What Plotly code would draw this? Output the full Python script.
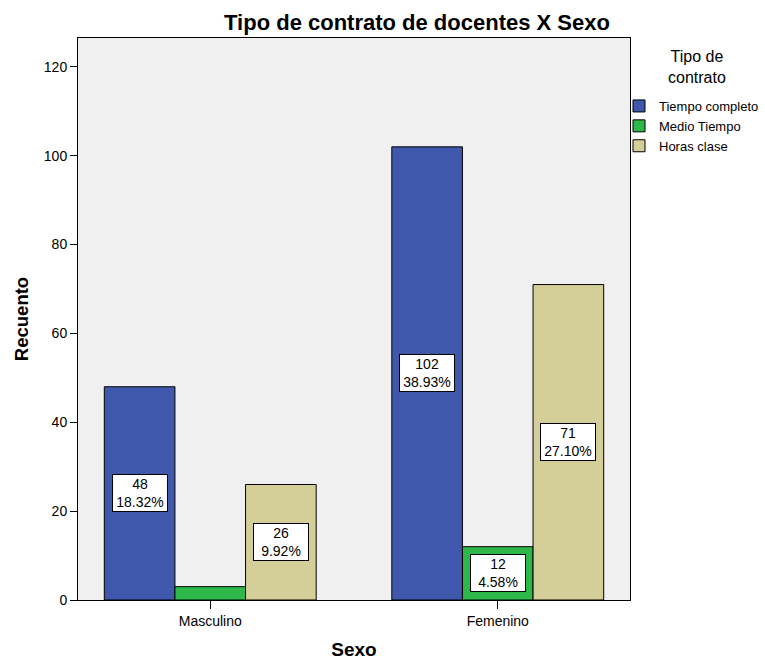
import plotly.graph_objects as go

# Data
sexo = ["Masculino", "Femenino"]
tipos = ["Tiempo completo", "Medio Tiempo", "Horas clase"]
recuento = {
    "Tiempo completo": [48, 102],
    "Medio Tiempo": [3, 12],
    "Horas clase": [26, 71],
}
colores = {
    "Tiempo completo": "#3F58AC",
    "Medio Tiempo": "#2FB84A",
    "Horas clase": "#D4CF98",
}
total = sum(sum(v) for v in recuento.values())
min_label = 5  # bars shorter than this carry no label box

BARGAP = 0.263
FONT = "Arial, Liberation Sans, sans-serif"
W, H = 765, 660
ML, MR, MT, MB = 78, 135, 38, 60
PW, PH = W - ML - MR, H - MT - MB

fig = go.Figure()
for t in tipos:
    fig.add_trace(go.Bar(
        x=sexo, y=recuento[t], name=t,
        marker=dict(color=colores[t], line=dict(color="black", width=1)),
    ))

# Boxed count / percentage labels at mid-height of each bar
group_w = 1 - BARGAP
n = len(tipos)
for k, t in enumerate(tipos):
    for i, v in enumerate(recuento[t]):
        if v < min_label:
            continue
        xc = i + (k - (n - 1) / 2) * group_w / n
        fig.add_annotation(
            x=xc, y=v / 2, xref="x", yref="y",
            text=f"{v}<br>{100 * v / total:.2f}%",
            showarrow=False, bgcolor="white", bordercolor="black",
            borderwidth=1, borderpad=0, width=54, height=36,
            font=dict(family=FONT, size=14, color="black"),
        )

# Legend title
fig.add_annotation(
    x=(697 - ML) / PW, y=(H - MB - 67) / PH, xref="paper", yref="paper",
    xanchor="center", yanchor="middle", align="center",
    text="Tipo de<br>contrato", showarrow=False,
    font=dict(family=FONT, size=16, color="black"),
)

fig.update_layout(
    width=W, height=H,
    margin=dict(l=ML, r=MR, t=MT, b=MB, autoexpand=False),
    paper_bgcolor="white", plot_bgcolor="#F0F0F0",
    barmode="group", bargap=BARGAP, bargroupgap=0,
    font=dict(family=FONT, size=12, color="black"),
    title=dict(text="<b>Tipo de contrato de docentes X Sexo</b>",
               x=417 / W, xanchor="center", y=1 - 22 / H, yanchor="middle",
               font=dict(family=FONT, size=22, color="black")),
    showlegend=True,
    legend=dict(x=(619 - ML) / PW, xanchor="left", y=(H - MB - 91) / PH, yanchor="top",
                font=dict(family=FONT, size=13, color="black"),
                bgcolor="rgba(0,0,0,0)", itemwidth=30, tracegroupgap=0),
    xaxis=dict(
        title=dict(text="<b>Sexo</b>", font=dict(family=FONT, size=19), standoff=14),
        range=[-0.46, 1.46], showgrid=False, zeroline=False,
        ticks="outside", ticklen=8, tickcolor="black",
        showline=True, linecolor="black", linewidth=1, mirror=True,
        tickfont=dict(family=FONT, size=14), automargin=False,
    ),
    yaxis=dict(
        title=dict(text="<b>Recuento</b>", font=dict(family=FONT, size=18.5), standoff=10),
        range=[0, 126.5], dtick=20, showgrid=False, zeroline=False,
        ticks="outside", ticklen=7, tickcolor="black",
        showline=True, linecolor="black", linewidth=1, mirror=True,
        tickfont=dict(family=FONT, size=14), automargin=False,
    ),
)

fig.write_html("out.html")
